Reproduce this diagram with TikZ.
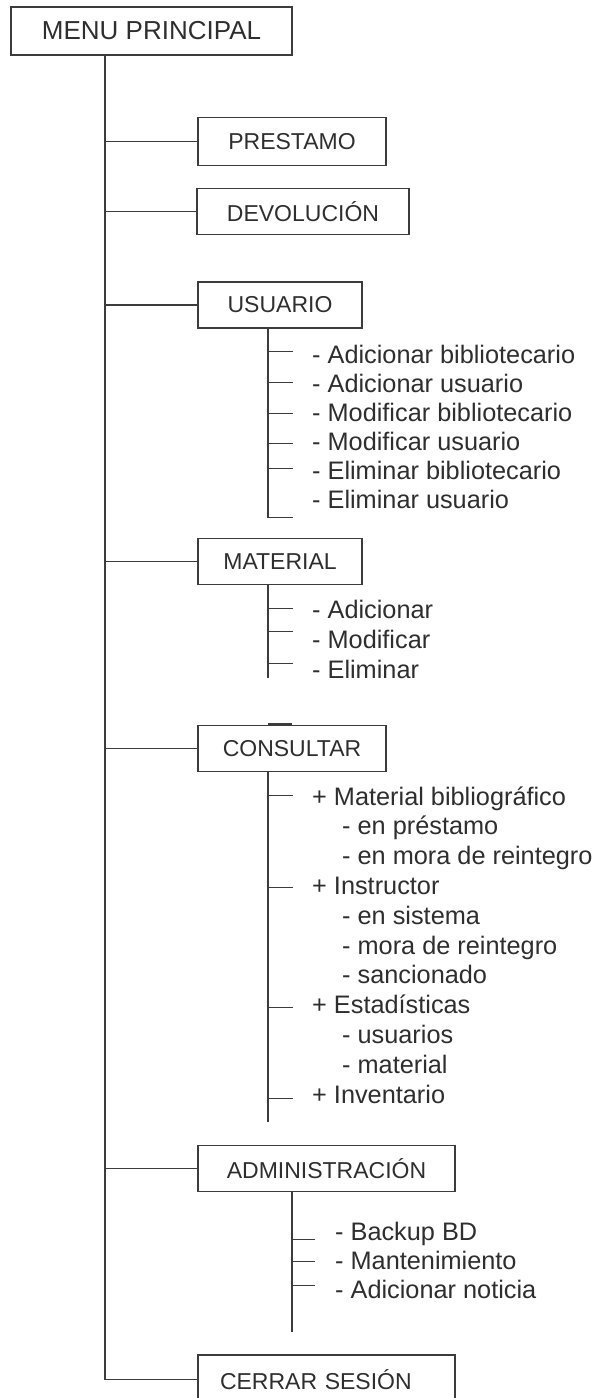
\documentclass[tikz,border=0pt]{standalone}
\usepackage{fontspec}
\setmainfont{Liberation Sans}
\definecolor{linec}{HTML}{3C3C3C}
\definecolor{txtc}{HTML}{2E2E2E}
\tikzset{
  box/.style={draw=linec, line width=1.5pt, text=txtc, font=\fontsize{23}{27}\selectfont,
    minimum height=47pt, inner sep=0pt, anchor=center},
  item/.style={anchor=base west, inner sep=0pt, text=txtc, font=\fontsize{25.3}{29}\selectfont},
  conn/.style={draw=linec, line width=1.5pt},
}
\begin{document}
\begin{tikzpicture}[x=1pt,y=-1pt]
\path[use as bounding box] (0,0) rectangle (602,1398);
\clip (0,0) rectangle (602,1398);

% main boxes
\node[box, minimum width=281pt, minimum height=48pt, font=\fontsize{26}{30}\selectfont] (menu) at (151.5,31) {MENU PRINCIPAL};
\node[box, minimum width=188pt, minimum height=48pt] (prestamo) at (292,141.5) {PRESTAMO};
\node[box, minimum width=212pt, minimum height=46pt] (devol) at (303,211.5) {DEVOLUCIÓN};
\node[box, minimum width=164pt, minimum height=46pt] (usuario) at (280,305) {USUARIO};
\node[box, minimum width=164pt, minimum height=46pt] (material) at (280,561.5) {MATERIAL};
\node[box, minimum width=188pt, minimum height=46pt] (consultar) at (292,748.5) {CONSULTAR};
\node[box, minimum width=257pt, minimum height=46pt] (admin) at (326.5,1168.5) {ADMINISTRACIÓN};
\node[box, text width=213pt, align=left, inner xsep=22pt, minimum height=49pt] (cerrar) at (326.5,1379.5) {CERRAR SESIÓN};

% main trunk
\coordinate (mx) at (105,0);
\draw[conn] (menu.south -| mx) -- (cerrar.west -| mx) -- (cerrar.west);
\draw[conn] (prestamo.west -| mx) -- (prestamo.west);
\draw[conn] (devol.west -| mx) -- (devol.west);
\draw[conn] (usuario.west -| mx) -- (usuario.west);
\draw[conn] (material.west -| mx) -- (material.west);
\draw[conn] (consultar.west -| mx) -- (consultar.west);
\draw[conn] (admin.west -| mx) -- (admin.west);

% USUARIO sub-items
\coordinate (ux) at (268,0);
\draw[conn] (usuario.south -| ux) -- (268,517.5) -- (293,517.5);
\foreach \y in {351.5,382.5,413.5,443.5,468.5} \draw[conn] (268,\y) -- (293,\y);
\node[item] (u1) at (312,363) {- Adicionar bibliotecario};
\node[item] (u2) at (312,392) {- Adicionar usuario};
\node[item] (u3) at (312,421) {- Modificar bibliotecario};
\node[item] (u4) at (312,450) {- Modificar usuario};
\node[item] (u5) at (312,479) {- Eliminar bibliotecario};
\node[item] (u6) at (312,508) {- Eliminar usuario};

% MATERIAL sub-items
\draw[conn] (material.south -| ux) -- (268,678);
\foreach \y in {608.5,631.5,663.5} \draw[conn] (268,\y) -- (293,\y);
\node[item] (m1) at (312,618) {- Adicionar};
\node[item] (m2) at (312,648) {- Modificar};
\node[item] (m3) at (312,678) {- Eliminar};

% stub above CONSULTAR
\draw[conn] (268,724) -- (292,724);

% CONSULTAR sub-items
\draw[conn] (consultar.south -| ux) -- (268,1122);
\foreach \y in {795.5,887.5,1007.5,1098.5} \draw[conn] (268,\y) -- (293,\y);
\node[item] (c1) at (312,805) {+ Material bibliográfico};
\node[item] (c2) at (342,834.8) {- en préstamo};
\node[item] (c3) at (342,864.6) {- en mora de reintegro};
\node[item] (c4) at (312,894.4) {+ Instructor};
\node[item] (c5) at (342,924.2) {- en sistema};
\node[item] (c6) at (342,954) {- mora de reintegro};
\node[item] (c7) at (342,983.8) {- sancionado};
\node[item] (c8) at (312,1013.6) {+ Estadísticas};
\node[item] (c9) at (342,1043.4) {- usuarios};
\node[item] (c10) at (342,1073.2) {- material};
\node[item] (c11) at (312,1103) {+ Inventario};

% ADMINISTRACION sub-items
\coordinate (ax) at (292,0);
\draw[conn] (admin.south -| ax) -- (292,1332);
\foreach \y in {1239.5,1261.5,1285.5} \draw[conn] (292,\y) -- (315,\y);
\node[item] (a1) at (335,1240) {- Backup BD};
\node[item] (a2) at (335,1269) {- Mantenimiento};
\node[item] (a3) at (335,1298) {- Adicionar noticia};
\end{tikzpicture}
\end{document}
